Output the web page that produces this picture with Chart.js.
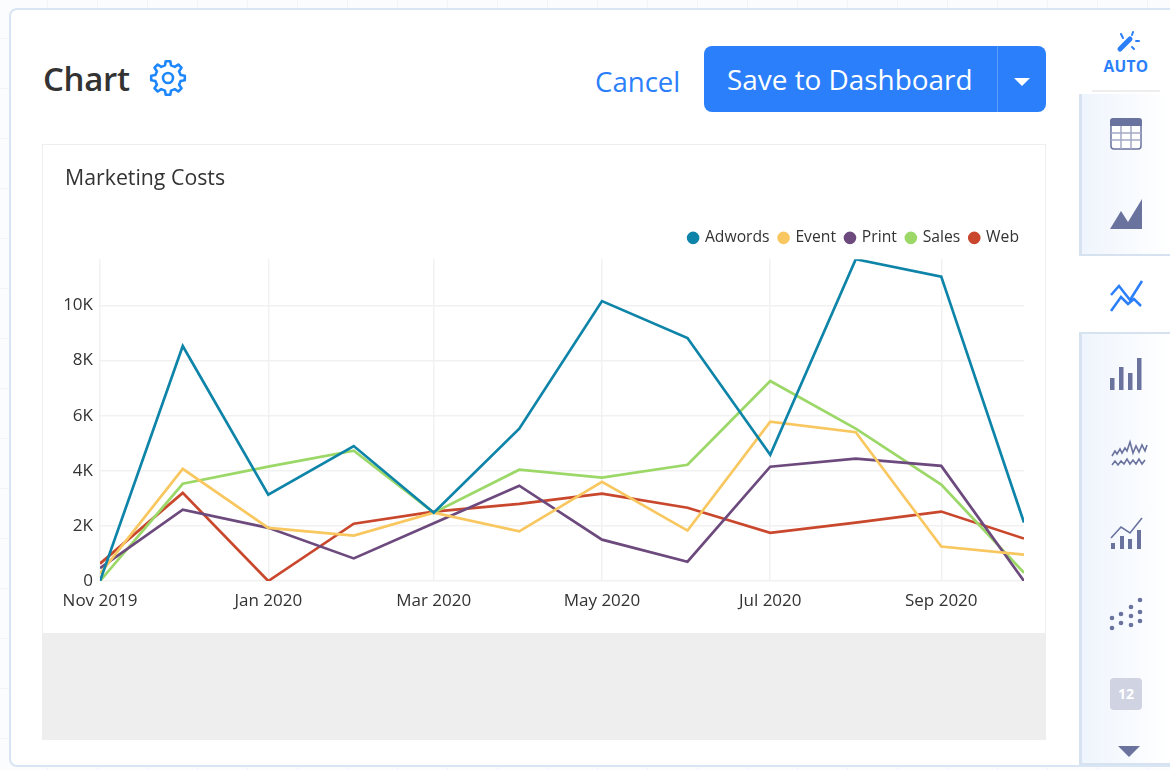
<!DOCTYPE html>
<html>
<head>
<meta charset="utf-8">
<title>Marketing Costs</title>
<script src="https://cdn.jsdelivr.net/npm/chart.js@4/dist/chart.umd.js"></script>
<style>
  html, body { margin: 0; padding: 0; }
  body {
    width: 1170px; height: 770px; overflow: hidden; position: relative;
    font-family: "Open Sans", sans-serif; color: #333;
    background-color: #fbfcfe;
    background-image:
      linear-gradient(to right, #f1f5fa 1px, transparent 1px),
      linear-gradient(to bottom, #f1f5fa 1px, transparent 1px);
    background-size: 50px 50px;
    background-position: 47px 38px;
  }
  .abs { position: absolute; }
  #panel {
    left: 9px; top: 8px; width: 1170px; height: 755px; background: #fff;
    border: 2px solid #d9e5f2; border-radius: 8px 0 0 8px;
  }
  #heading { left: 43px; top: 54px; font-size: 33px; font-weight: 600; line-height: 50px; letter-spacing: -0.3px; }
  #cancel { left: 595px; top: 61px; font-size: 27.6px; line-height: 40px; color: #2b7ffb; }
  #save {
    left: 704px; top: 46px; width: 342px; height: 66px; background: #2b7ffb;
    border-radius: 8px; color: #fff; font-size: 27.9px; line-height: 66px;
  }
  #save span { position: absolute; left: 23px; top: 0; white-space: nowrap; }
  #save i { position: absolute; left: 293px; top: 0; width: 1px; height: 66px; background: #5c9cfc; }
  #card { left: 42px; top: 144px; width: 1002px; height: 594px; border: 1px solid #eeeeee; background: #fff; }
  #cardFoot { left: 43px; top: 633px; width: 1003px; height: 107px; background: #eeeeee; }
  #chartWrap { left: 43px; top: 145px; }
  .side {
    left: 1079px; width: 91px; box-sizing: border-box;
    border-left: 3px solid #d6e2f0;
    background: linear-gradient(to right, #eff5fd, #ffffff);
  }
  #sideA { top: 94px; height: 162px; border-bottom: 2px solid #d6e2f0; }
  #sideB { top: 332px; height: 433px; border-top: 2px solid #d6e2f0; border-bottom: 2px solid #d6e2f0; }
  #sideRule { left: 1092px; top: 90px; width: 68px; height: 2px; background: #eeeeee; }
  #auto { left: 1092px; top: 55px; width: 68px; text-align: center; font-size: 15.5px; font-weight: 700; color: #2b7ffb; line-height: 22px; letter-spacing: 0.3px; }
  #num {
    left: 1110px; top: 678px; width: 32px; height: 32px; border-radius: 4px; background: #cfd3e2;
    color: #fff; font-size: 14px; font-weight: 700; line-height: 32px; text-align: center;
  }
  svg.abs { left: 0; top: 0; pointer-events: none; }
</style>
</head>
<body>
<div class="abs" id="panel"></div>
<div class="abs" id="heading">Chart</div>
<div class="abs" id="cancel">Cancel</div>
<div class="abs" id="save"><span>Save to Dashboard</span><i></i></div>
<div class="abs" id="card"></div>
<div class="abs" id="chartWrap"><canvas id="lineChart" width="1003" height="488"></canvas></div>
<div class="abs" id="cardFoot"></div>
<div class="abs side" id="sideA"></div>
<div class="abs side" id="sideB"></div>
<div class="abs" id="sideRule"></div>
<div class="abs" id="auto">AUTO</div>
<div class="abs" id="num">12</div>

<svg class="abs" width="1170" height="770" viewBox="0 0 1170 770">
  <!-- settings gear -->
  <path id="gear" fill="none" stroke="#1e87fb" stroke-width="2.6" stroke-linejoin="round"/>
  <circle cx="168" cy="78" r="5" fill="none" stroke="#1e87fb" stroke-width="2.6"/>
  <!-- save caret -->
  <path d="M1014 78 H1030 L1022 86 Z" fill="#fff"/>
  <!-- auto wand -->
  <path d="M1120 49 L1130 39" stroke="#2b7ffb" stroke-width="5" stroke-linecap="round"/>
  <path d="M1121 34 l2 4 M1133 32 l-1 3 M1136 41 h3 M1132 47 l2 2" stroke="#2b7ffb" stroke-width="2" stroke-linecap="round"/>
  <!-- table -->
  <rect x="1111" y="119" width="30" height="30" rx="3" fill="#fff" stroke="#6a739e" stroke-width="1.5"/>
  <path d="M1110 121 a3 3 0 0 1 3 -3 h26 a3 3 0 0 1 3 3 v5 h-32 Z" fill="#6a739e"/>
  <path d="M1111 133 H1141 M1111 140 H1141 M1121 126 V149 M1131 126 V149" stroke="#a3a9c4" stroke-width="1.5"/>
  <!-- area -->
  <path d="M1110 229 L1121 211 L1128 222 L1142 199 V229 Z" fill="#6a739e"/>
  <!-- line, selected -->
  <path d="M1111 295 L1119 286 L1130 300 L1142 281 M1111 311 L1121 297 L1128 304 L1134 299 L1141 306" fill="none" stroke="#2b7ffb" stroke-width="2.5"/>
  <!-- bars -->
  <path d="M1110 378 h4.500 v12 h-4.500 Z M1119 367 h4.500 v23 h-4.500 Z M1128 373 h4.500 v17 h-4.500 Z M1137 358 h4.500 v32 h-4.500 Z" fill="#6a739e"/>
  <!-- waves -->
  <path d="M1112 456 l3 -5 2 3 3 -5 2 4 3 -5 2 3 3 -9 3 11 3 -7 3 6 3 -7 3 6 2 -6 M1112 465 l3 -4 3 4 3 -4 3 3 3 -5 3 5 3 -4 3 4 3 -5 3 5 3 -4" fill="none" stroke="#6a739e" stroke-width="1.600"/>
  <!-- combo -->
  <path d="M1111 543 h4 v6 h-4 Z M1120 536 h4 v13 h-4 Z M1128 539 h4 v10 h-4 Z M1137 530 h4 v19 h-4 Z" fill="#6a739e"/>
  <path d="M1111 538 L1121 527 L1130 533 L1142 518" fill="none" stroke="#6a739e" stroke-width="1.600"/>
  <!-- scatter -->
  <g fill="#6a739e">
    <circle cx="1112" cy="618" r="2.300"/><circle cx="1112" cy="628" r="2.300"/>
    <circle cx="1121" cy="614" r="2.300"/><circle cx="1121" cy="623" r="2.300"/>
    <circle cx="1131" cy="607" r="2.300"/><circle cx="1131" cy="616" r="2.300"/><circle cx="1131" cy="625" r="2.300"/>
    <circle cx="1140" cy="600" r="2.300"/><circle cx="1140" cy="612" r="2.300"/><circle cx="1140" cy="621" r="2.300"/>
  </g>
  <!-- more caret -->
  <path d="M1118 746 H1140 L1129 757 Z" fill="#6a739e"/>
</svg>

<script>
// first of each month, Nov 2019 - Oct 2020
const months = ["2019-11-01", "2019-12-01", "2020-01-01", "2020-02-01", "2020-03-01", "2020-04-01",
                "2020-05-01", "2020-06-01", "2020-07-01", "2020-08-01", "2020-09-01", "2020-10-01"];
const tickMonths = ["2019-11-01", "2020-01-01", "2020-03-01", "2020-05-01", "2020-07-01", "2020-09-01"];
const tickLabels = ["Nov 2019", "Jan 2020", "Mar 2020", "May 2020", "Jul 2020", "Sep 2020"];
const yTicks = [0, 2000, 4000, 6000, 8000, 10000];

const adwords = [0, 8530, 3130, 4900, 2480, 5530, 10160, 8820, 4580, 11680, 11050, 2120];
const eventCosts = [270, 4070, 1930, 1650, 2480, 1800, 3600, 1830, 5780, 5400, 1250, 960];
const print = [470, 2590, 1930, 820, 2100, 3460, 1500, 700, 4150, 4440, 4180, 0];
const sales = [0, 3530, 4150, 4730, 2480, 4040, 3750, 4220, 7260, 5530, 3500, 300];
const web = [630, 3200, 0, 2080, 2520, 2800, 3170, 2660, 1750, 2120, 2520, 1540];

const yMax = 11680;

const toTime = function(m) { return Date.parse(m); };

function series(label, values, color) {
    return {
        label: label,
        data: values.map(function(v, i) { return { x: toTime(months[i]), y: v }; }),
        borderColor: color,
        backgroundColor: color,
        borderWidth: 2.7,
        pointRadius: 0,
        tension: 0
    };
}

// a bit more room under the legend, and push it closer to the right edge
const legendTweak = {
    id: "legendTweak",
    beforeInit: function(chart) {
        const fit = chart.legend.fit;
        chart.legend.fit = function() {
            fit.call(this);
            this.height += 3.5;
        };
    },
    afterLayout: function(chart) {
        // the extra half pixel keeps the last item from wrapping at draw time
        chart.legend.right += 5.5;
        chart.legend.lineWidths[0] += 0.5;
    }
};

new Chart("lineChart", {
    type: "line",
    plugins: [legendTweak],
    data: {
        datasets: [
            series("Adwords", adwords, "#0d84a8"),
            series("Event", eventCosts, "#f9c75f"),
            series("Print", print, "#6d4a7e"),
            series("Sales", sales, "#9cd868"),
            series("Web", web, "#c9472c")
        ]
    },
    options: {
        responsive: false,
        animation: false,
        layout: { padding: { left: 22, right: 22, top: 21, bottom: 0 } },
        plugins: {
            title: {
                display: true,
                text: "Marketing Costs",
                align: "start",
                color: "#333",
                font: { family: "Open Sans", size: 21.3, weight: "normal" },
                padding: { top: 0, bottom: 28.5 }
            },
            legend: {
                position: "top",
                align: "end",
                labels: {
                    usePointStyle: true,
                    pointStyle: "circle",
                    boxWidth: 8,
                    boxHeight: 7,
                    padding: 10,
                    color: "#333",
                    font: { family: "Open Sans", size: 15.7 }
                }
            },
            tooltip: { enabled: false }
        },
        scales: {
            x: {
                type: "linear",
                min: toTime(months[0]),
                max: toTime(months[months.length - 1]),
                afterBuildTicks: function(axis) {
                    axis.ticks = tickMonths.map(function(m) { return { value: toTime(m) }; });
                },
                afterFit: function(axis) { axis.height = 52; },
                grid: { color: "#f1f1f1", lineWidth: 1.5, drawTicks: false },
                border: { display: false },
                ticks: {
                    padding: 10,
                    maxRotation: 0,
                    autoSkip: false,
                    color: "#333",
                    font: { family: "Open Sans", size: 17 },
                    callback: function(value) {
                        return tickLabels[tickMonths.map(toTime).indexOf(value)];
                    }
                }
            },
            y: {
                min: 0,
                max: yMax,
                afterBuildTicks: function(axis) {
                    axis.ticks = yTicks.map(function(v) { return { value: v }; });
                },
                afterFit: function(axis) { axis.width = 35; },
                grid: { color: "#f1f1f1", lineWidth: 1.5, drawTicks: false },
                border: { display: false },
                ticks: {
                    padding: 7,
                    color: "#333",
                    font: { family: "Open Sans", size: 17 },
                    callback: function(value) {
                        return value === 0 ? "0" : (value / 1000) + "K";
                    }
                }
            }
        }
    }
});

// gear outline for the settings icon
(function() {
    const cx = 168, cy = 78, teeth = 8;
    let d = "";
    for (let i = 0; i < teeth; i++) {
        const a = (i / teeth) * Math.PI * 2 - Math.PI / 2;
        const step = Math.PI * 2 / teeth;
        const pts = [[13, a - step * 0.3], [17, a - step * 0.17], [17, a + step * 0.17], [13, a + step * 0.3]];
        pts.forEach(function(p, k) {
            d += (i === 0 && k === 0 ? "M" : "L") + (cx + p[0] * Math.cos(p[1])).toFixed(1) + " " + (cy + p[0] * Math.sin(p[1])).toFixed(1) + " ";
        });
    }
    document.getElementById("gear").setAttribute("d", d + "Z");
})();
</script>
</body>
</html>
